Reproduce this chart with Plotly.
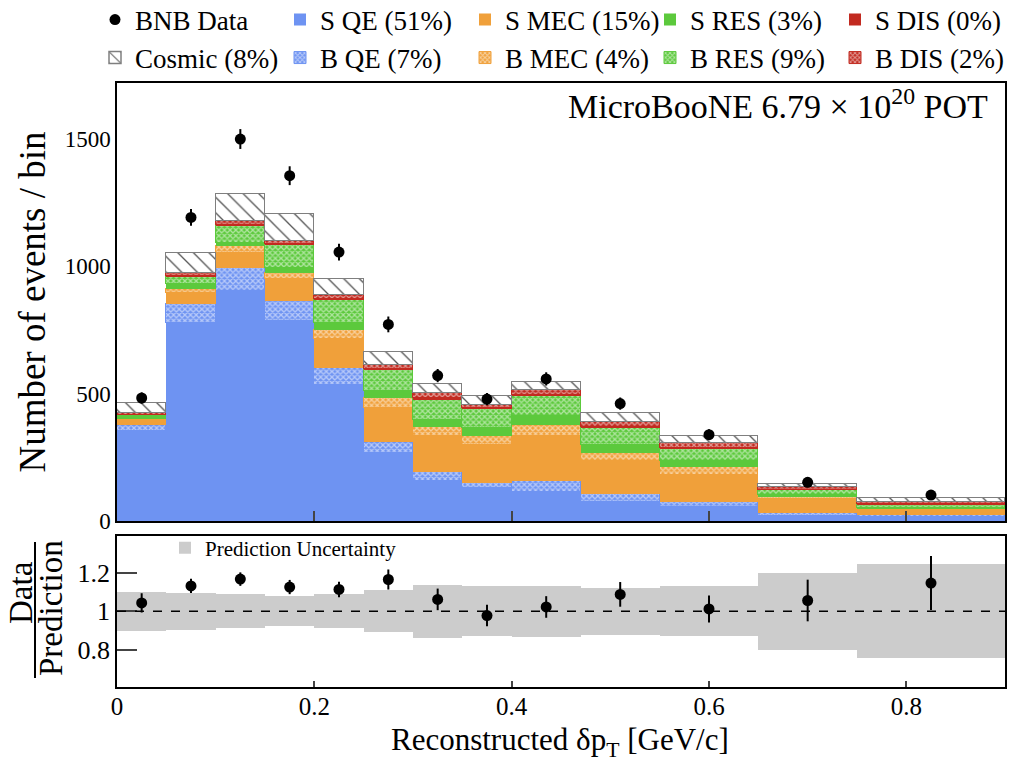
import plotly.graph_objects as go

# ---------------- data ----------------
bin_edges = [0.0, 0.05, 0.10, 0.15, 0.20, 0.25, 0.30, 0.35, 0.40, 0.47, 0.55, 0.65, 0.75, 0.90]
data_x = [0.025, 0.075, 0.125, 0.175, 0.225, 0.275, 0.325, 0.375, 0.435, 0.51, 0.60, 0.70, 0.825]

s_qe = [352, 778, 903, 785, 535, 266, 157, 129, 115, 76, 56, 21, 17]
b_qe = [26, 76, 92, 78, 66, 46, 37, 22, 42, 30, 20, 9, 5]
s_mec = [20, 42, 59, 88, 112, 132, 138, 148, 178, 128, 105, 55, 21]
b_mec = [6, 16, 26, 24, 36, 39, 37, 36, 43, 35, 33, 8, 6]
s_res = [7, 17, 13, 20, 29, 26, 26, 30, 33, 30, 21, 9, 3]
b_res = [6, 33, 68, 92, 92, 85, 84, 75, 81, 70, 51, 20, 14]
s_dis = [1, 2, 3, 2, 2, 2, 3, 2, 3, 2, 2, 1, 1]
b_dis = [6, 11, 14, 11, 14, 18, 21, 15, 18, 16, 18, 10, 6]
cosmic = [39, 79, 108, 105, 63, 49, 35, 33, 33, 37, 29, 11, 16]

bnb_data = [483, 1192, 1500, 1356, 1056, 772, 571, 479, 558, 461, 339, 152, 102]
bnb_err = [22, 33, 39, 37, 33, 31, 26, 24, 26, 24, 21, 16, 12]

ratio_err = [0.05, 0.037, 0.035, 0.037, 0.04, 0.052, 0.056, 0.056, 0.056, 0.064, 0.07, 0.108, 0.14]
pred_unc = [0.10, 0.096, 0.089, 0.077, 0.089, 0.11, 0.137, 0.129, 0.132, 0.122, 0.13, 0.20, 0.243]

x_tick_vals = [0, 0.2, 0.4, 0.6, 0.8]
x_tick_text = ["0", "0.2", "0.4", "0.6", "0.8"]
y_tick_vals = [0, 500, 1000, 1500]
r_tick_vals = [0.8, 1.0, 1.2]
r_tick_text = ["0.8", "1", "1.2"]

labels = {
    "data": "BNB Data",
    "s_qe": "S QE (51%)", "s_mec": "S MEC (15%)", "s_res": "S RES (3%)", "s_dis": "S DIS (0%)",
    "cosmic": "Cosmic (8%)", "b_qe": "B QE (7%)", "b_mec": "B MEC (4%)", "b_res": "B RES (9%)",
    "b_dis": "B DIS (2%)",
}

# ---------------- derived ----------------
centers = [(a + b) / 2 for a, b in zip(bin_edges[:-1], bin_edges[1:])]
widths = [b - a for a, b in zip(bin_edges[:-1], bin_edges[1:])]
components = [s_qe, b_qe, s_mec, b_mec, s_res, b_res, s_dis, b_dis, cosmic]
total_pred = [sum(c[i] for c in components) for i in range(len(centers))]
ratio = [d / p for d, p in zip(bnb_data, total_pred)]
band_base = [1 - u for u in pred_unc]
band_height = [2 * u for u in pred_unc]

# ---------------- layout helpers (pixel -> paper) ----------------
W, H = 1019, 762
ML, MR, MT, MB = 117, 14, 83, 75
PW, PH = W - ML - MR, H - MT - MB


def px(x):
    return (x - ML) / PW


def py(y):
    return (H - MB - y) / PH


FONT = "Liberation Serif"
BLUE = "#6e93f2"
ORANGE = "#f0a03a"
GREEN = "#5cc93c"
RED = "#c22a20"
GREY = "#7f7f7f"

fig = go.Figure()


def add_solid(vals, name, color, rank, legend):
    fig.add_trace(go.Bar(
        x=centers, y=vals, width=widths, name=name, legend=legend, legendrank=rank,
        marker=dict(color=color, line=dict(width=0)), xaxis="x", yaxis="y",
    ))


def add_hatched(vals, name, color, rank, legend):
    fig.add_trace(go.Bar(
        x=centers, y=vals, width=widths, name=name, legend=legend, legendrank=rank,
        marker=dict(color=color, line=dict(width=1, color=color),
                    pattern=dict(shape="x", fgcolor="white", size=4, solidity=0.55,
                                 fillmode="overlay")),
        xaxis="x", yaxis="y",
    ))


add_solid(s_qe, labels["s_qe"], BLUE, 2, "legend")
add_hatched(b_qe, labels["b_qe"], BLUE, 2, "legend2")
add_solid(s_mec, labels["s_mec"], ORANGE, 3, "legend")
add_hatched(b_mec, labels["b_mec"], ORANGE, 3, "legend2")
add_solid(s_res, labels["s_res"], GREEN, 4, "legend")
add_hatched(b_res, labels["b_res"], GREEN, 4, "legend2")
add_solid(s_dis, labels["s_dis"], RED, 5, "legend")
add_hatched(b_dis, labels["b_dis"], RED, 5, "legend2")
fig.add_trace(go.Bar(
    x=centers, y=cosmic, width=widths, name=labels["cosmic"], legend="legend2", legendrank=1,
    marker=dict(color="white", line=dict(width=1.5, color=GREY),
                pattern=dict(shape="\\", fgcolor="#555555", bgcolor="white", size=11, solidity=0.12,
                             fillmode="replace")),
    xaxis="x", yaxis="y",
))

fig.add_trace(go.Scatter(
    x=data_x, y=bnb_data, mode="markers", name=labels["data"], legend="legend", legendrank=1,
    marker=dict(color="black", size=11),
    error_y=dict(type="data", array=bnb_err, color="black", thickness=2, width=0),
    xaxis="x", yaxis="y",
))

# ratio panel
fig.add_trace(go.Bar(
    x=centers, y=band_height, base=band_base, width=widths, name="Prediction Uncertainty",
    legend="legend3", marker=dict(color="#cccccc", line=dict(width=0)),
    xaxis="x2", yaxis="y2",
))
fig.add_trace(go.Scatter(
    x=data_x, y=ratio, mode="markers", showlegend=False,
    marker=dict(color="black", size=11),
    error_y=dict(type="data", array=ratio_err, color="black", thickness=2, width=0),
    xaxis="x2", yaxis="y2",
))

axis_common = dict(showline=True, linecolor="black", linewidth=1.5, mirror=True,
                   showgrid=False, zeroline=False)

fig.update_layout(
    width=W, height=H,
    margin=dict(l=ML, r=MR, t=MT, b=MB, autoexpand=False),
    paper_bgcolor="white", plot_bgcolor="white",
    barmode="stack", bargap=0,
    font=dict(family=FONT, color="black", size=22),
    xaxis=dict(domain=[0, 1], anchor="y", range=[0, 0.9], showticklabels=False,
               ticks="inside", ticklen=10, tickwidth=1.5, tickvals=x_tick_vals[1:],
               **axis_common),
    yaxis=dict(domain=[py(521), 1], anchor="x", range=[0, 1720], tickvals=y_tick_vals,
               ticks="", tickfont=dict(size=23),
               title=dict(text="Number of events / bin", font=dict(size=37), standoff=8),
               **axis_common),
    xaxis2=dict(domain=[0, 1], anchor="y2", range=[0, 0.9], matches="x",
                tickvals=x_tick_vals, ticktext=x_tick_text,
                ticks="inside", ticklen=6, tickwidth=1.5, tickfont=dict(size=25),
                ticklabelstandoff=-4,
                **axis_common),
    yaxis2=dict(domain=[0, py(536)], anchor="x2", range=[0.607, 1.39],
                tickvals=r_tick_vals, ticktext=r_tick_text,
                ticks="inside", ticklen=20, tickwidth=1.5, tickfont=dict(size=26),
                **axis_common),
    legend=dict(orientation="h", x=px(95), xanchor="left", y=py(20), yanchor="middle",
                font=dict(size=27), entrywidth=140, bgcolor="rgba(0,0,0,0)",
                traceorder="normal"),
    legend2=dict(orientation="h", x=px(95), xanchor="left", y=py(58), yanchor="middle",
                 font=dict(size=27), entrywidth=140, bgcolor="rgba(0,0,0,0)",
                 traceorder="normal"),
    legend3=dict(orientation="h", x=px(165), xanchor="left", y=py(548), yanchor="middle",
                 font=dict(size=21), bgcolor="rgba(0,0,0,0)"),
    annotations=[
        dict(text="MicroBooNE 6.79 × 10<sup>20</sup> POT", xref="paper", yref="paper",
             x=px(990), y=py(104), xanchor="right", yanchor="middle", showarrow=False,
             font=dict(size=34)),
        dict(text="Reconstructed δp<sub>T</sub> [GeV/c]", xref="paper", yref="paper",
             x=px(560), y=py(763), xanchor="center", yanchor="bottom", showarrow=False,
             borderpad=0, font=dict(size=31)),
        dict(text="Data", xref="paper", yref="paper", x=px(21), y=py(593), textangle=-90,
             xanchor="center", yanchor="middle", showarrow=False, font=dict(size=33)),
        dict(text="Prediction", xref="paper", yref="paper", x=px(51), y=py(608), textangle=-90,
             xanchor="center", yanchor="middle", showarrow=False, font=dict(size=33)),
    ],
    shapes=[
        dict(type="line", xref="x2 domain", yref="y2", x0=0, x1=1, y0=1, y1=1,
             line=dict(color="black", width=1.5, dash="dash")),
        dict(type="line", xref="paper", yref="paper", x0=px(35), x1=px(35),
             y0=py(542), y1=py(678), line=dict(color="black", width=2)),
    ],
)

fig.write_html("out.html")
